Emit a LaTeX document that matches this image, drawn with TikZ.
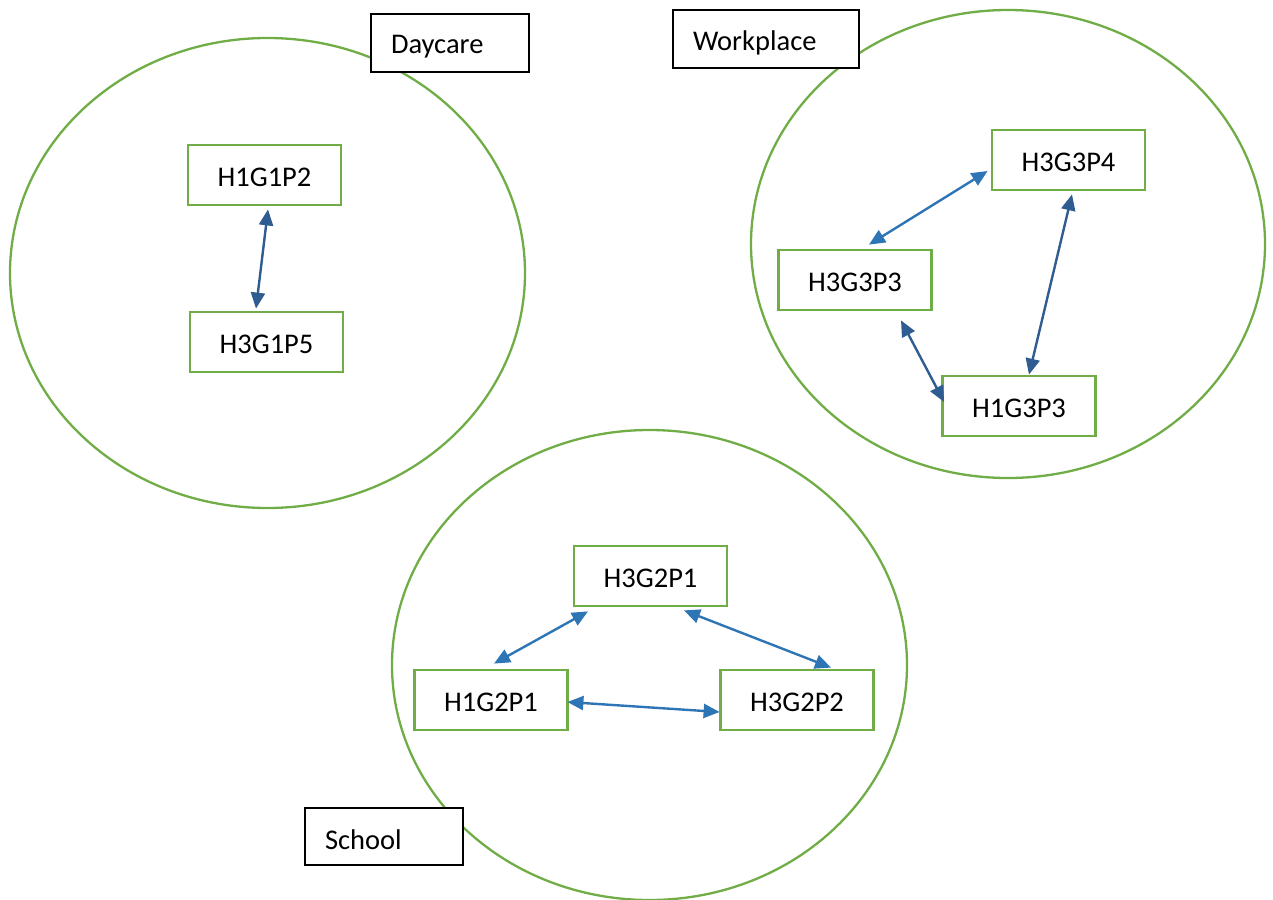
\documentclass[tikz,border=0pt]{standalone}
\usepackage{fontspec}
\setmainfont{Carlito}
\usetikzlibrary{arrows.meta,calc}
\definecolor{ringgreen}{HTML}{70AD47}
\definecolor{linkblue}{HTML}{2E75B6}
\definecolor{linkdark}{HTML}{2F5C91}
% lower a text without changing the size the node reserves for it
\newcommand{\lowered}[2]{\raisebox{-#1}[\height][\depth]{#2}}
\begin{document}
\begin{tikzpicture}[x=1pt,y=-1pt,
  font=\fontsize{28.5}{32}\selectfont,
  ring/.style={draw=ringgreen,line width=2.3pt},
  person/.style={draw=ringgreen,line width=2.8pt,fill=white,
    minimum width=153pt,minimum height=60pt,inner sep=0pt},
  place/.style={draw=black,line width=1.3pt,fill=white,
    minimum height=58pt,inner xsep=20pt,inner ysep=0pt,align=left},
  link/.style={line width=2.4pt,{Triangle[length=16pt,width=14pt]}-{Triangle[length=16pt,width=14pt]}},
  light/.style={link,draw=linkblue,fill=linkblue},
  dark/.style={link,draw=linkdark,fill=linkdark}]
\useasboundingbox (0,0) rectangle (1273,899);

% settings (groups)
\draw[ring] (267.5,273) ellipse [x radius=257.5, y radius=235];
\draw[ring] (1008,244) ellipse [x radius=257, y radius=234];
\draw[ring] (649.5,665) ellipse [x radius=257.5, y radius=235];

% setting labels
\node[place,text width=118pt] (daycare) at (450,43) {\lowered{4pt}{Daycare}};
\node[place,text width=146pt] (workplace) at (766,39) {\lowered{4pt}{Workplace}};
\node[place,text width=118pt,minimum height=57pt] (school) at (384,836.5) {\lowered{3pt}{School}};

% people
\node[person] (h1g1p2) at (264.5,175) {\lowered{2pt}{H1G1P2}};
\node[person] (h3g1p5) at (266.5,342) {\lowered{2pt}{H3G1P5}};

\node[person] (h3g3p4) at (1068.5,160) {\lowered{2pt}{H3G3P4}};
\node[person] (h3g3p3) at (855,280) {\lowered{2pt}{H3G3P3}};
\node[person] (h1g3p3) at (1019,406) {\lowered{2pt}{H1G3P3}};

\node[person] (h3g2p1) at (650.5,576) {\lowered{2pt}{H3G2P1}};
\node[person] (h1g2p1) at (491,700) {\lowered{2pt}{H1G2P1}};
\node[person] (h3g2p2) at (797,700) {\lowered{2pt}{H3G2P2}};

% contacts
\draw[dark] ($(h1g1p2.south)+(3.5,3)$) -- ($(h3g1p5.north)+(-10.5,-2)$);

\draw[light] ($(h3g3p4.west)+(-3,11)$) -- ($(h3g3p3.north)+(14,-4)$);
\draw[dark] ($(h3g3p4.south)+(3.5,3)$) -- ($(h1g3p3.north)+(10,0)$);
\draw[dark] ($(h3g3p3.south)+(46,9)$) -- ($(h1g3p3.west)+(3,-4)$);

\draw[light] ($(h3g2p1.south)+(-62.5,4)$) -- ($(h1g2p1.north)+(3,-5)$);
\draw[light] ($(h3g2p1.south)+(33.5,3)$) -- ($(h3g2p2.north)+(34,-1)$);
\draw[light] ($(h1g2p1.east)+(-1.5,2)$) -- ($(h3g2p2.west)+(0.5,12)$);
\end{tikzpicture}
\end{document}
